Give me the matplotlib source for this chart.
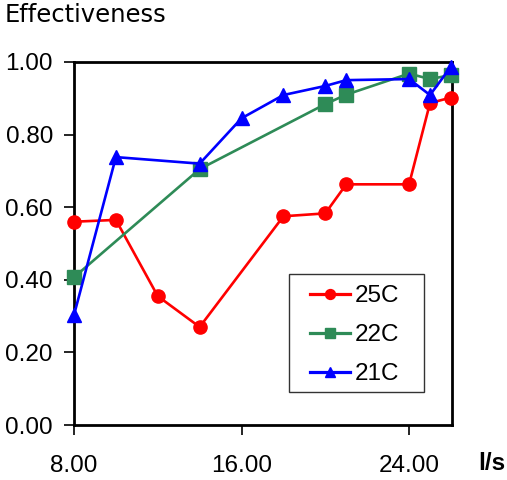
import matplotlib
matplotlib.use("Agg")
import matplotlib.pyplot as plt
from matplotlib.patches import Rectangle

x_25 = [8, 10, 12, 14, 18, 20, 21, 24, 25, 26]
y_25 = [0.56, 0.565, 0.355, 0.27, 0.575, 0.583, 0.663, 0.663, 0.887, 0.902]
x_22 = [8, 14, 20, 21, 24, 25, 26]
y_22 = [0.407, 0.705, 0.884, 0.91, 0.968, 0.953, 0.964]
x_21 = [8, 10, 14, 16, 18, 20, 21, 24, 25, 26]
y_21 = [0.303, 0.738, 0.72, 0.845, 0.909, 0.934, 0.95, 0.953, 0.909, 0.987]
xticks = [8, 16, 24]
yticks = [0.0, 0.2, 0.4, 0.6, 0.8, 1.0]

FONT = "Liberation Sans"
FS = 17.5
W, H = 507, 480
L, R, T, B = 74, 452, 62, 425

fig = plt.figure(figsize=(5.07, 4.8), dpi=100)
ax = fig.add_axes([L/W, 1-B/H, (R-L)/W, (B-T)/H])

ax.plot(x_25, y_25, color="#FF0000", lw=1.9, marker="o", ms=9.5, label="25C", clip_on=False, zorder=3)
ax.plot(x_22, y_22, color="#2E8B57", lw=1.9, marker="s", ms=9.5, label="22C", clip_on=False, zorder=3)
ax.plot(x_21, y_21, color="#0000FF", lw=1.9, marker="^", ms=10.5, label="21C", clip_on=False, zorder=4)

ax.set_xlim(8, 26.05)
ax.set_ylim(0, 1.0)
ax.set_xticks(xticks)
ax.set_xticklabels([f"{v:.2f}" for v in xticks], fontsize=FS, fontfamily=FONT)
ax.set_yticks(yticks)
ax.set_yticklabels([f"{v:.2f}" for v in yticks], fontsize=FS, fontfamily=FONT)
ax.tick_params(axis="x", direction="out", length=7.2, width=1.2, pad=14.4)
ax.tick_params(axis="y", direction="out", length=7.2, width=1.2, pad=8.0)
for s in ax.spines.values():
    s.set_linewidth(2)
    s.set_color("black")

fig.text(5/W, 1-15/H, "Effectiveness", fontsize=17.5, fontfamily="DejaVu Sans", va="center", ha="left")
fig.text(492/W, 1-464/H, "l/s", fontsize=FS, fontweight="bold", fontfamily=FONT, va="center", ha="center")

# legend frame
lx0, lx1, ly0, ly1 = 289, 424, 274, 392
ax.add_patch(Rectangle(((lx0-L)/(R-L), (B-ly1)/(B-T)), (lx1-lx0)/(R-L), (ly1-ly0)/(B-T),
                       transform=ax.transAxes, facecolor="white", edgecolor="#333333",
                       lw=1, clip_on=False, zorder=5))
leg = ax.legend(loc="upper left", bbox_to_anchor=((310-L)/(R-L), (B-285)/(B-T)),
                frameon=False, prop={"family": FONT, "size": FS}, handlelength=1.65,
                markerscale=0.75, borderaxespad=0, borderpad=0, labelspacing=0.7,
                handletextpad=0.2)
for h in leg.legend_handles:
    h.set_linewidth(2.3)
leg.set_zorder(6)

fig.savefig("out.png", dpi=100)
